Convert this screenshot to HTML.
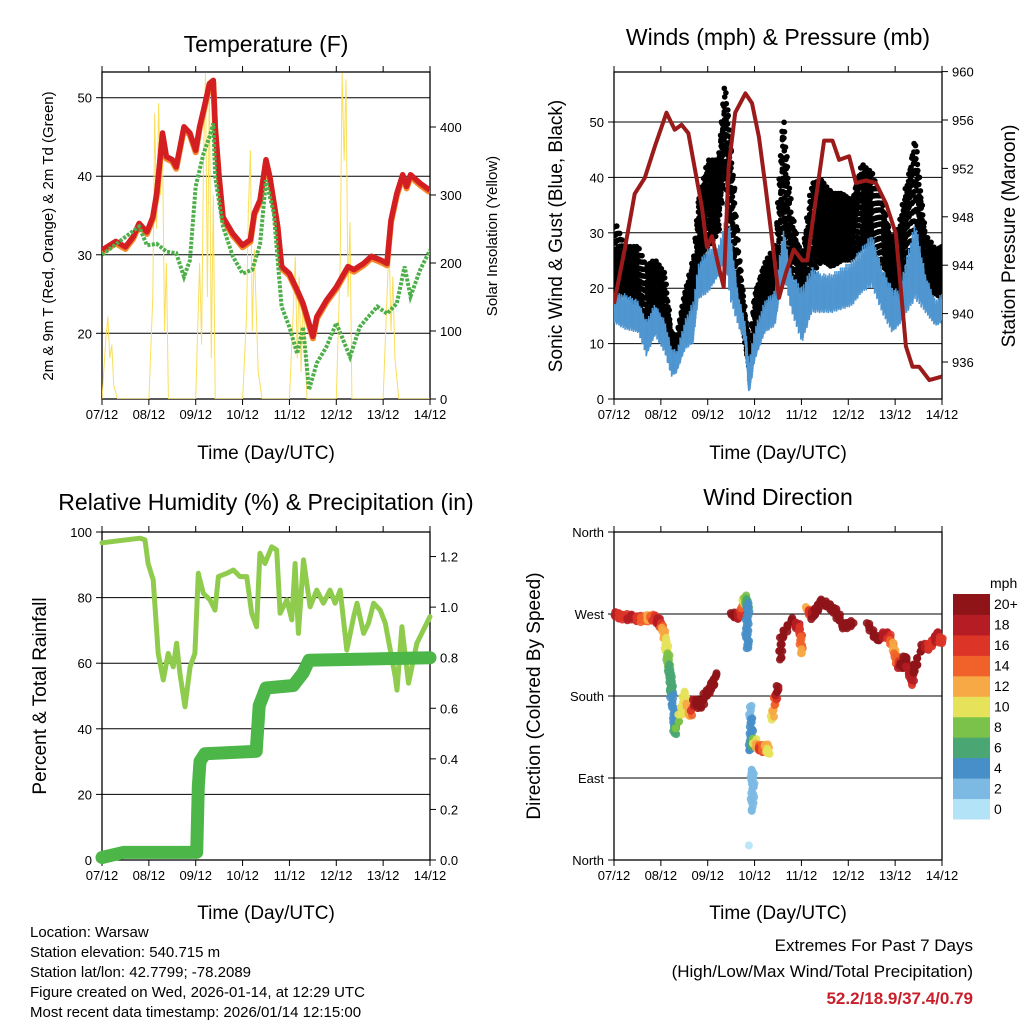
<!DOCTYPE html>
<html><head><meta charset="utf-8"><style>
html,body{margin:0;padding:0;background:#fff;}
svg{display:block;font-family:"Liberation Sans",sans-serif;}
</style></head><body>
<svg id="c" width="1024" height="1024" viewBox="0 0 1024 1024" xmlns="http://www.w3.org/2000/svg">
<rect width="1024" height="1024" fill="#fff"/>
<text x="266" y="52" font-size="23" text-anchor="middle">Temperature (F)</text>
<text x="778" y="45" font-size="23" text-anchor="middle">Winds (mph) &amp; Pressure (mb)</text>
<text x="266" y="510" font-size="23" text-anchor="middle">Relative Humidity (%) &amp; Precipitation (in)</text>
<text x="778" y="505" font-size="23" text-anchor="middle">Wind Direction</text>
<text transform="translate(53,236) rotate(-90)" font-size="15" text-anchor="middle">2m &amp; 9m T (Red, Orange) &amp; 2m Td (Green)</text>
<text transform="translate(497,236) rotate(-90)" font-size="15" text-anchor="middle">Solar Insolation (Yellow)</text>
<text transform="translate(562,236) rotate(-90)" font-size="19" text-anchor="middle">Sonic Wind &amp; Gust (Blue, Black)</text>
<text transform="translate(1015,236) rotate(-90)" font-size="19" text-anchor="middle">Station Pressure (Maroon)</text>
<text transform="translate(46,696) rotate(-90)" font-size="19" text-anchor="middle">Percent &amp; Total Rainfall</text>
<text transform="translate(540,696) rotate(-90)" font-size="19" text-anchor="middle">Direction (Colored By Speed)</text>
<text x="266" y="459" font-size="19" text-anchor="middle">Time (Day/UTC)</text>
<text x="778" y="459" font-size="19" text-anchor="middle">Time (Day/UTC)</text>
<text x="266" y="919" font-size="19" text-anchor="middle">Time (Day/UTC)</text>
<text x="778" y="919" font-size="19" text-anchor="middle">Time (Day/UTC)</text>
<g font-size="15">
<text x="30" y="937">Location: Warsaw</text>
<text x="30" y="957">Station elevation: 540.715 m</text>
<text x="30" y="977">Station lat/lon: 42.7799; -78.2089</text>
<text x="30" y="997">Figure created on Wed, 2026-01-14, at 12:29 UTC</text>
<text x="30" y="1017">Most recent data timestamp: 2026/01/14 12:15:00</text>
</g>
<g font-size="17" text-anchor="end">
<text x="973" y="951">Extremes For Past 7 Days</text>
<text x="973" y="977">(High/Low/Max Wind/Total Precipitation)</text>
<text x="973" y="1004" fill="#c8202a" font-weight="bold">52.2/18.9/37.4/0.79</text>
</g>
</svg>
<script>
// ---------- Data ----------
const dayLabels=["07/12","08/12","09/12","10/12","11/12","12/12","13/12","14/12"];
const tHours=[0,7,12,16,19,23,26,28,30,31,33,36,38,42,45,48,50,52,54,55,57,58,60,62,67,72,76,78,81,84,86,90,92,96,100,103,108,110,115,120,126,129,134,138,143,146,148,151,154,156,158,163,168];
const tempF=[30.6,31.7,31.0,32.3,34.0,32.9,34.8,37.8,42.9,45.5,42.5,42.1,41.2,46.3,45.5,43.3,46.3,48.4,50.6,51.8,52.2,46.3,39.9,34.8,32.7,31.2,31.9,35.3,37.0,42.1,39.9,33.6,28.5,27.6,25.5,23.8,19.6,22.1,24.2,25.9,28.5,28.1,28.9,29.8,29.3,28.9,34.4,37.8,40.2,38.7,40.2,39.1,38.2];
const dHours=[0,9,19,23,28,33,38,42,45,48,52,55,57,58,62,67,72,77,81,84,88,92,96,100,103,106,110,115,120,127,132,135,141,146,151,155,158,163,168];
const dewF=[30.0,31.7,33.6,31.2,31.4,30.4,30.2,27.2,29.3,38.7,42.9,45.0,46.7,39.9,33.6,29.8,27.6,28.1,31.4,39.5,35.3,23.4,20.8,17.4,20.8,12.8,16.2,18.3,21.3,17.0,20.8,21.7,23.4,22.5,23.8,28.5,24.7,28.1,30.6];
const solarHours=[0,2,3,4,5,6,8,24,26,27,28,29,30,31,32,33,34,48,50,51,52,53,54,55,56,57,58,72,74,75,76,77,78,80,82,96,98,99,100,101,102,103,105,120,122,123,124,125,126,127,128,144,146,147,148,149,150,152,168];
const solarW=[0,90,121,60,80,20,0,0,150,420,250,435,300,380,100,200,0,0,200,80,350,480,150,470,60,300,0,0,120,280,366,100,220,40,0,0,130,209,60,180,40,150,0,0,200,480,350,470,150,260,0,0,150,234,100,180,60,0,0];
const pHours=[0,5.5,10.6,15.7,20.9,26.9,31.1,34.6,38.1,41.5,45.0,47.6,50.2,53.6,56.2,58.7,62.1,67.3,70.7,74.2,77.6,81.0,84.5,87.9,92.1,96.4,99.0,103.3,107.6,111.9,115.3,120.4,123.9,129.0,134.1,139.3,144.4,149.5,152.9,156.3,161.5,168];
const pressureMb=[940.8,945.3,949.9,951.2,953.8,956.6,955.2,955.6,954.9,951.9,948.8,945.5,946.4,943.9,942.2,952.1,956.6,958.2,957.4,954.6,950.5,946.1,941.3,943.3,945.3,944.4,944.4,949.4,954.3,954.3,952.7,953.0,950.8,951.0,950.8,949.1,946.6,937.3,935.6,935.6,934.5,934.8];
const wHours=[0,5.5,12.3,16.6,20.9,26,29.4,32,36.3,40.6,43.1,48.2,53.4,56.8,59.4,63.6,67,69.1,72.2,77.3,82.5,86.7,91,96.2,101.3,106.4,111.6,116.7,121.8,127,132.1,137.2,142.4,145.8,154.3,159.5,164.6,168];
const windHi=[19.1,19.1,17.9,14.3,17.3,14.3,9.4,8.8,14.3,17.9,24.5,27.5,27.5,32.3,31.1,19.1,14.3,7.0,13.1,17.9,19.7,31.1,22.7,20.3,23.9,22.7,22.7,23.9,25.1,27.5,29.9,23.9,20.3,19.7,32.3,22.7,17.9,19.1];
const windLo=[13.7,12.5,11.9,7.6,11.3,8.2,4.0,4.6,8.8,10.0,17.9,19.1,22.1,25.1,17.9,13.1,10.0,0.4,7.0,11.9,13.1,22.7,15.5,10.0,15.5,15.5,15.5,16.1,16.7,19.1,20.3,15.5,11.9,13.1,17.9,15.5,13.1,13.7];
const gustHi=[32.3,27.5,27.5,23.9,25.1,22.7,11.9,11.3,19.1,25.1,35.9,43.1,43.1,57.0,49.2,28.1,16.1,10.0,19.1,24.5,27.5,51.6,33.5,25.1,38.9,39.5,37.1,37.1,35.9,42.5,40.7,35.9,28.7,31.1,47.4,29.9,26.9,27.5];
const gustLo=[17.9,19.1,16.7,11.3,15.5,13.1,7.6,7.0,13.1,14.3,22.1,27.5,29.9,40.7,28.1,16.1,10.6,5.2,11.3,15.5,15.5,31.1,19.1,14.3,22.1,25.1,23.9,25.1,25.1,27.5,27.5,23.9,17.9,16.1,25.1,17.9,19.1,17.9];
const rhHours=[0,19.5,22,23.6,26.2,28.8,31.4,33.9,36.5,38.2,39.9,42.5,45.1,47.6,49.3,51.9,55.3,57.9,59.6,63.9,67.3,70.7,74.1,76.7,79.2,80.9,83.5,86.9,89.5,91.2,94.7,97.2,98.9,100.6,103.2,106.6,110.0,113.4,116.8,119.4,122.0,125.4,128.9,130.6,134.0,136.5,139.1,142.5,145.1,150.2,151.1,153.6,157.0,161.3,168];
const rhPct=[96.7,98.1,97.6,90.4,85.4,63.0,54.9,63.0,58.9,66.1,56.9,46.7,58.9,63.0,87.4,81.3,79.3,76.2,86.4,87.4,88.4,86.4,86.4,75.2,71.1,93.5,90.4,95.5,94.5,75.2,79.3,73.2,90.4,69.1,91.5,77.2,82.3,78.3,82.3,78.3,82.3,64.0,74.2,78.3,69.1,72.2,78.3,76.2,72.2,55.9,51.8,71.1,53.9,66.1,74.2];
const prHours=[0,11,28,47,48.5,49.3,50.2,52.7,79,79.5,80.5,84,98,103,106,168];
const precipIn=[0.01,0.03,0.03,0.03,0.03,0.29,0.39,0.42,0.43,0.49,0.61,0.68,0.69,0.74,0.79,0.80];
const dirHours=[0.3,4.6,9.8,14.9,18.3,20.9,23.4,25.2,26.9,27.7,28.6,29.4,29.4,31.1,31.1,34.6,36.3,38.8,41.4,44.0,47.4,50.0,52.5,60.2,64.5,66.2,67.1,68.8,67.9,68.8,69.6,70.5,69.6,71.3,74.8,78.2,79.0,70.5,71.3,70.5,69.1,80.8,82.5,84.2,85.0,85.9,91.0,95.3,96.2,98.7,102.1,105.6,110.7,114.1,117.5,122.7,129.5,134.7,139.8,143.2,144.9,147.5,149.2,152.6,153.5,157.8,162.0,165.5,168];
const dirDeg=[269,267,266,264,266,266,260,253,234,220,205,190,183,154,139,165,183,158,176,168,183,190,205,269,267,282,288,278,253,233,168,143,121,132,121,125,117,99,81,55,16,154,176,190,220,245,264,253,227,275,267,284,278,271,256,260,260,242,249,234,216,212,223,194,209,234,234,249,238];
const dirSpeed=[18,16,18,14,12,16,18,12,10,8,6,6,5,4,6,10,10,12,19,20,20,20,20,20,18,12,8,4,3,4,2,4,3,8,16,12,10,1,3,2,0,10,14,20,20,20,20,16,12,12,20,20,20,20,20,20,20,20,18,12,14,20,20,16,20,20,16,18,16];
const speedBins=["0","2","4","6","8","10","12","14","16","18","20+"];
const speedColors=["#b3e3f7","#7cb9e3","#478fc8","#4aa672","#7bc24a","#e6e25a","#f6a944","#f0622a","#dc3427","#b51c24","#8f1418"];

// ---------- Helpers ----------
const NS="http://www.w3.org/2000/svg";
const svg=document.getElementById('c');
function mk(tag,attrs,parent){const e=document.createElementNS(NS,tag);for(const k in attrs)e.setAttribute(k,attrs[k]);(parent||svg).appendChild(e);return e;}
function lin(d0,d1,r0,r1){return v=>r0+(v-d0)*(r1-r0)/(d1-d0);}
function pathOf(xs,ys,fx,fy){return xs.map((h,i)=>(i?'L':'M')+fx(h).toFixed(1)+','+fy(ys[i]).toFixed(1)).join('');}
function interp(xs,ys,t){for(let i=1;i<xs.length;i++){if(t<=xs[i]){const a=(t-xs[i-1])/((xs[i]-xs[i-1])||1);return ys[i-1]+a*(ys[i]-ys[i-1]);}}return ys[ys.length-1];}
function jit(i,m){return ((i*7919+13)%m)/(m-1);}

function frame(name,x0,x1,y0,y1,fx,leftTicks,fyL,leftLabels,rightTicks,fyR,rightLabels,grid){
  const g=mk('g',{});
  
  
  if(grid){leftTicks.forEach(v=>{const y=fyL(v);if(Math.abs(y-y0)>2&&Math.abs(y-y1)>2){const l=mk('line',{x1:x0,x2:x1,y1:y,y2:y,stroke:'#000','stroke-width':1},g);}});}
  mk('rect',{x:x0,y:y0,width:x1-x0,height:y1-y0,fill:'none',stroke:'#000','stroke-width':1.3},g);
  for(let d=0;d<=7;d++){const x=fx(d*24);
    mk('line',{x1:x,x2:x,y1:y1,y2:y1+6,stroke:'#000'},g);mk('line',{x1:x,x2:x,y1:y0,y2:y0-6,stroke:'#000'},g);
    const t=mk('text',{x:x,y:y1+20,'font-size':13,'text-anchor':'middle'},g);t.textContent=dayLabels[d];
    }
  leftTicks.forEach((v,i)=>{const y=fyL(v);mk('line',{x1:x0-6,x2:x0,y1:y,y2:y,stroke:'#000'},g);
    const t=mk('text',{x:x0-10,y:y+5,'font-size':13,'text-anchor':'end'},g);t.textContent=leftLabels[i];
    });
  if(rightTicks)rightTicks.forEach((v,i)=>{const y=fyR(v);mk('line',{x1:x1,x2:x1+6,y1:y,y2:y,stroke:'#000'},g);
    const t=mk('text',{x:x1+10,y:y+5,'font-size':13},g);t.textContent=rightLabels[i];
    });
}

// ---------- Panel 1: Temperature ----------
{
const x=lin(0,168,102,430),yT=lin(20,50,333.3,97.7),yS=lin(0,400,399,127);
mk('clipPath',{id:'cp1'}).appendChild(mk('rect',{x:102,y:72,width:328,height:327}));
frame('temperature',102,430,72,399,x,[20,30,40,50],yT,["20","30","40","50"],[0,100,200,300,400],yS,["0","100","200","300","400"],true);
const g=mk('g',{'clip-path':'url(#cp1)'});
let p=mk('path',{d:pathOf(solarHours,solarW,x,yS),fill:'none',stroke:'#f9df5a','stroke-width':1},g);

p=mk('path',{d:pathOf(tHours,tempF,x,yT),fill:'none',stroke:'#f4892c','stroke-width':6,'stroke-linejoin':'round',transform:'translate(0,2)'},g);

p=mk('path',{d:pathOf(tHours,tempF,x,yT),fill:'none',stroke:'#d41f22','stroke-width':5.5,'stroke-linejoin':'round'},g);

p=mk('path',{d:pathOf(dHours,dewF,x,yT),fill:'none',stroke:'#4daf4a','stroke-width':4,'stroke-dasharray':'3,1.5'},g);

}

// ---------- Panel 2: Winds ----------
{
const x=lin(0,168,614,942),yW=lin(0,50,399,122),yP=lin(936,956,362,120);
mk('clipPath',{id:'cp2'}).appendChild(mk('rect',{x:614,y:72,width:328,height:327}));
frame('winds',614,942,72,399,x,[0,10,20,30,40,50],yW,["0","10","20","30","40","50"],[936,940,944,948,952,956,960],yP,["936","940","944","948","952","956","960"],true);
const g=mk('g',{'clip-path':'url(#cp2)'});
const gd=mk('g',{fill:'#000'},g);

for(let i=0;i<=168*8;i++){const t=i/8;const hi=interp(wHours,gustHi,t),lo=interp(wHours,gustLo,t);
  for(let k=0;k<2;k++){const f=jit(i*2+k,23);const v=lo+(hi-lo)*f;
  mk('circle',{cx:(x(t)+jit(i*3+k,7)-0.5).toFixed(1),cy:yW(v).toFixed(1),r:2.8},gd);}}
const gb=mk('g',{stroke:'#5096d1','stroke-width':1.6},g);

for(let i=0;i<=168*6;i++){const t=i/6;const hi=interp(wHours,windHi,t),lo=interp(wHours,windLo,t);
  const top=lo+(hi-lo)*(0.55+0.45*jit(i,17)),bot=lo+(hi-lo)*(0.2*jit(i+5,13));
  mk('line',{x1:x(t).toFixed(1),x2:x(t).toFixed(1),y1:yW(top).toFixed(1),y2:yW(bot).toFixed(1)},gb);}
let p=mk('path',{d:pathOf(pHours,pressureMb,x,yP),fill:'none',stroke:'#9b1b1b','stroke-width':4,'stroke-linejoin':'round'},g);

}

// ---------- Panel 3: RH & Precip ----------
{
const x=lin(0,168,102,430),yR=lin(0,100,860,532),yPr=lin(0,0.8,860,657.7);
frame('humidity',102,430,532,860,x,[0,20,40,60,80,100],yR,["0","20","40","60","80","100"],[0,0.2,0.4,0.6,0.8,1.0,1.2],yPr,["0.0","0.2","0.4","0.6","0.8","1.0","1.2"],true);
let p=mk('path',{d:pathOf(rhHours,rhPct,x,yR),fill:'none',stroke:'#8fcc4e','stroke-width':5,'stroke-linejoin':'round','stroke-linecap':'round'});

p=mk('path',{d:pathOf(prHours,precipIn,x,yPr),fill:'none',stroke:'#4cb648','stroke-width':13,'stroke-linejoin':'round','stroke-linecap':'round'});

}

// ---------- Panel 4: Wind direction ----------
{
const x=lin(0,168,614,942),yD=lin(0,360,860,532);
frame('direction',614,942,532,860,x,[0,90,180,270,360],yD,["North","East","South","West","North"],null,null,null,true);
const col=s=>speedColors[Math.max(0,Math.min(10,Math.round(s/2)))];
const g=mk('g',{'fill-opacity':0.9});

let n=0;
for(let i=0;i<dirHours.length;i++){
  mk('circle',{cx:x(dirHours[i]),cy:yD(dirDeg[i]),r:4,fill:col(dirSpeed[i])},g);
  if(i>0){const dh=dirHours[i]-dirHours[i-1],dd=dirDeg[i]-dirDeg[i-1];
    if(Math.abs(dh)<6&&Math.abs(dd)<30){for(let k=1;k<12;k++){const a=k/12;n++;
      mk('circle',{cx:x(dirHours[i-1]+dh*a)+(jit(n,5)-0.5)*3,cy:yD(dirDeg[i-1]+dd*a)+(jit(n+3,7)-0.5)*6,r:4,fill:col(dirSpeed[i-1]+(dirSpeed[i]-dirSpeed[i-1])*a)},g);}}}
}
const cb=mk('g',{});

const t=mk('text',{x:990,y:588,'font-size':14},cb);t.textContent='mph';
const bh=225/11;
for(let i=0;i<11;i++){const y=594+(10-i)*bh;
  mk('rect',{x:953,y:y,width:37,height:bh+0.5,fill:speedColors[i]},cb);
  const l=mk('text',{x:994,y:y+bh/2+5,'font-size':14},cb);l.textContent=speedBins[i];
  }
}
</script>
</body></html>
